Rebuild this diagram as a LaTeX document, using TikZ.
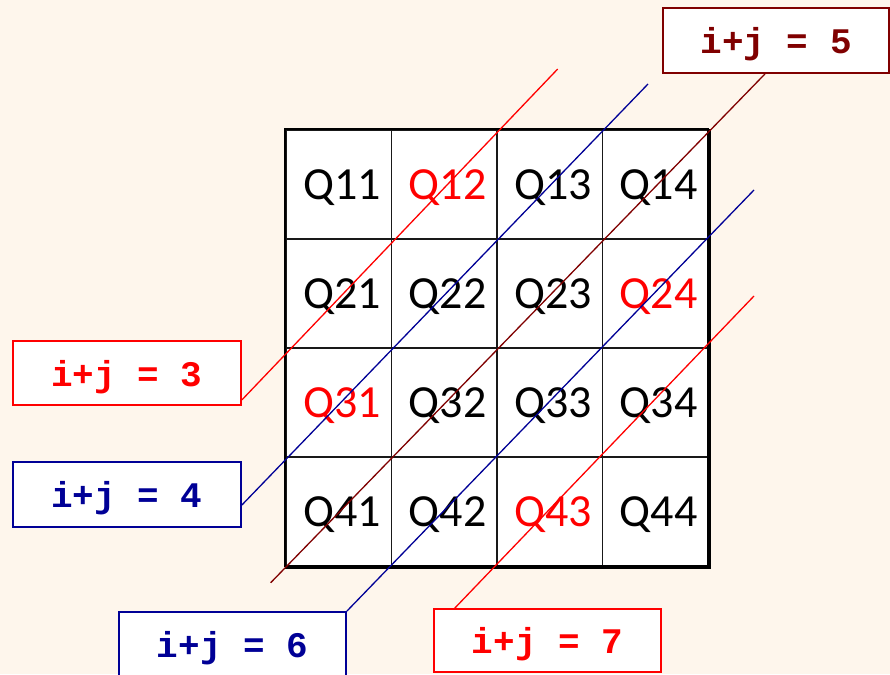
\documentclass[tikz,border=0pt]{standalone}
\usepackage{fontspec}
\setmainfont{Carlito}
\newfontfamily\labfont{Liberation Mono}
\usetikzlibrary{calc}
\definecolor{bg}{RGB}{254,246,236}
\definecolor{myred}{RGB}{255,0,0}
\definecolor{mymaroon}{RGB}{128,0,0}
\definecolor{myblue}{RGB}{0,0,150}
\begin{document}
\begin{tikzpicture}[x=1pt,y=-1pt,
  cell/.style={draw=black!90, line width=1.5pt, fill=white,
    minimum width=105.5pt, minimum height=109pt, inner sep=0pt,
    font=\fontsize{46}{50}\selectfont, text depth=0pt},
  eqbox/.style={draw=#1, text=#1, line width=1.8pt, fill=white,
    minimum width=227pt, minimum height=64pt, inner sep=0pt, text depth=0pt,
    font=\labfont\bfseries\fontsize{36}{40}\selectfont},
  diag/.style={draw=#1, line width=1.3pt}]
\useasboundingbox[fill=bg] (0,0) rectangle (890,674);

% grid cells
\foreach \i/\j/\c in {1/1/black,1/2/myred,1/3/black,1/4/black,
                      2/1/black,2/2/black,2/3/black,2/4/myred,
                      3/1/myred,3/2/black,3/3/black,3/4/black,
                      4/1/black,4/2/black,4/3/myred,4/4/black}
  \node[cell,text=\c] (c\i\j) at ({286+(\j-0.5)*105.5},{130+(\i-0.5)*109}) {\hspace*{7pt}Q\i\j};

% outer frame
\draw[line width=2pt] (c41.south west) -- (c11.north west) -- (c14.north east);
\draw[line width=3.6pt] (c14.north east) -- (c44.south east) -- (c41.south west);

% label boxes
\node[eqbox=myred,minimum width=228pt]   (b3) at (127,373)   {i+j = 3};
\node[eqbox=myblue,minimum width=228pt,minimum height=65pt] (b4) at (127,494.5) {i+j = 4};
\node[eqbox=mymaroon,minimum width=226pt,minimum height=65pt] (b5) at (776,40.5) {i+j = 5};
\node[eqbox=myblue]  (b6) at (232.5,644) {i+j = 6};
\node[eqbox=myred,minimum height=63pt]   (b7) at (547.5,640.5) {i+j = 7};

% free ends of the diagonals
\coordinate (t3) at (557.7,69);
\coordinate (t4) at (648,84);
\coordinate (e5) at (270.7,582.7);
\coordinate (t6) at (754,190);
\coordinate (t7) at (754,296);

% diagonals
\draw[diag=myred]    ($(b3.south east)+(0,-6)$) -- (t3);
\draw[diag=myblue]   ($(b4.east)+(0,10.5)$) -- (t4);
\draw[diag=mymaroon] ($(b5.south)+(-11,0)$) -- (e5);
\draw[diag=myblue]   (b6.north east) -- (t6);
\draw[diag=myred]    ($(b7.north west)+(21.7,0)$) -- (t7);
\end{tikzpicture}
\end{document}
